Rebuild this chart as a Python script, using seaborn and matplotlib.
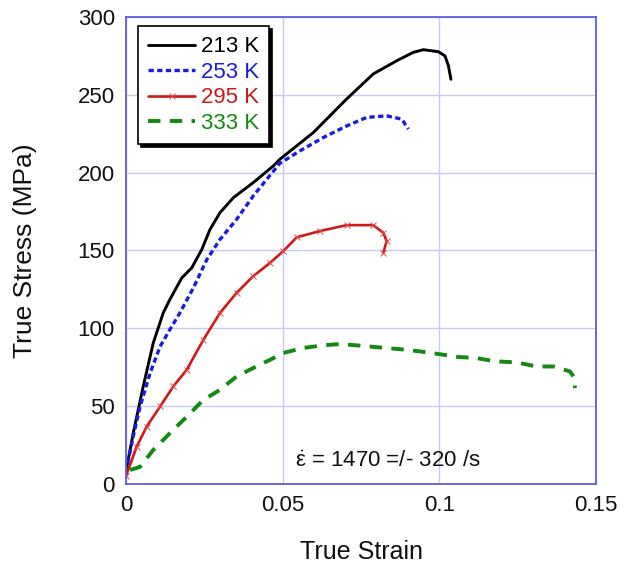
import matplotlib
matplotlib.use("Agg")
import matplotlib.pyplot as plt
import seaborn as sns
import pandas as pd
import numpy as np

# ---- data ----
x_213 = [0, 0.0023, 0.0055, 0.0087, 0.0119, 0.014, 0.0178, 0.021, 0.0242, 0.0268, 0.030, 0.0343,
         0.0406, 0.047, 0.0491, 0.0598, 0.0704, 0.0789, 0.0864, 0.0917, 0.0949, 0.0997, 0.1018,
         0.1029, 0.1037]
y_213 = [8, 32.6, 62.7, 90.6, 110, 118.5, 132.4, 138.9, 150.7, 163.5, 174.3, 184,
         193.6, 204.3, 208.6, 225.8, 247.3, 263.4, 271.9, 277.3, 279, 277.7, 275,
         268.7, 260]

x_253 = [0, 0.0023, 0.0045, 0.0077, 0.0109, 0.014, 0.0172, 0.0215, 0.0258, 0.030, 0.0353, 0.0406,
         0.0449, 0.0491, 0.0555, 0.063, 0.0704, 0.0768, 0.0832, 0.088, 0.0901]
y_253 = [8, 30.5, 49.8, 71.3, 88.4, 99.2, 109.9, 126, 144.2, 157.1, 170, 185,
         195.7, 206, 214, 222.6, 230, 235.5, 236.5, 234.4, 228]

x_295 = [0, 0.0034, 0.0066, 0.0109, 0.0151, 0.0194, 0.0247, 0.030, 0.0353, 0.0406, 0.046, 0.0502,
         0.0545, 0.0619, 0.0704, 0.0789, 0.0821, 0.0832, 0.0821]
y_295 = [5, 24, 36.9, 49.8, 62.7, 73.4, 92.7, 109.9, 122.8, 133.5, 142.1, 149.6,
         158.5, 162.5, 166.3, 166.3, 161.4, 156, 148.5]

x_333 = [0.0013, 0.0045, 0.0087, 0.014, 0.0194, 0.0247, 0.030, 0.0353, 0.0406, 0.046, 0.0502,
         0.0566, 0.063, 0.0683, 0.0747, 0.0805, 0.0869, 0.0938, 0.0997, 0.106, 0.1119, 0.1178,
         0.1247, 0.131, 0.1364, 0.1417, 0.1428, 0.1433]
y_333 = [9, 11, 21.9, 32.6, 43.3, 54, 60.5, 69.1, 74.5, 79.8, 84.2,
         87.4, 89.1, 89.9, 88.9, 87.8, 86.7, 85.2, 83.5, 81.6, 80.9, 78.8,
         78.1, 75.5, 75.5, 72.3, 69.1, 61.6]

labels = ["213 K", "253 K", "295 K", "333 K"]
x_ticks = [0, 0.05, 0.1, 0.15]
x_tick_labels = ["0", "0.05", "0.1", "0.15"]
y_ticks = [0, 50, 100, 150, 200, 250, 300]

sns.set_theme(style="white")
plt.rcParams["font.family"] = ["Liberation Sans", "DejaVu Sans"]
plt.rcParams["mathtext.fontset"] = "custom"
plt.rcParams["mathtext.rm"] = "Liberation Sans"
plt.rcParams["mathtext.it"] = "Liberation Sans"

fig = plt.figure(figsize=(6.24, 5.66), dpi=100)
ax = fig.add_axes([126 / 624, 1 - 484 / 566, (596 - 126) / 624, (484 - 17) / 566])

frame = "#5c5ce6"
grid = "#c9c9f7"

red = "#d01818"
series = [
    (x_213, y_213, labels[0], dict(color="black", lw=2.1, ls="-")),
    (x_253, y_253, labels[1], dict(color="#1a1ae6", lw=2.4, ls=(0, (1.6, 1.0)))),
    (x_295, y_295, labels[2], dict(color=red, lw=1.9, ls="-", marker="x",
                                   markersize=4, markeredgewidth=0.7,
                                   markeredgecolor="#e05050", markevery=1)),
    (x_333, y_333, labels[3], dict(color="#128a12", lw=2.8, ls=(0, (3.2, 2.4)))),
]

for xs, ys, lab, kw in series:
    df = pd.DataFrame({"strain": xs, "stress": ys})
    sns.lineplot(data=df, x="strain", y="stress", sort=False, estimator=None,
                 ax=ax, label=lab, **kw)

ax.set_xlim(0, 0.15)
ax.set_ylim(0, 300)
ax.set_xticks(x_ticks)
ax.set_xticklabels(x_tick_labels)
ax.set_yticks(y_ticks)
ax.grid(True, color=grid, lw=1.0)
for s in ax.spines.values():
    s.set_color(frame)
    s.set_linewidth(1.3)
ax.tick_params(direction="in", length=5, color=frame, width=1.2, labelsize=16,
               labelcolor="#111111", pad=8)
ax.set_xlabel("True Strain", fontsize=18, labelpad=17, color="#111111")
ax.set_ylabel("True Stress (MPa)", fontsize=19, labelpad=29, color="#111111")

leg = ax.legend(loc="upper left", bbox_to_anchor=(0.012, 0.994), fontsize=16,
                frameon=True, fancybox=False, shadow={"color": "black", "alpha": 1.0},
                edgecolor="black", framealpha=1.0, handlelength=2.1, handletextpad=0.25,
                borderpad=0.45, labelspacing=0.2, borderaxespad=0.3)
leg.get_frame().set_linewidth(1.2)
for txt, (_, _, _, kw) in zip(leg.get_texts(), series):
    txt.set_color(kw["color"])
# only one marker on the 295 K legend handle
for h in leg.legend_handles:
    if h.get_marker() == "x":
        h.set_markevery([1])

ax.text(0.054, 11, r"$\dot{\varepsilon}$ = 1470 =/- 320 /s", fontsize=16, color="#111111")

fig.savefig("out.png", dpi=100)
